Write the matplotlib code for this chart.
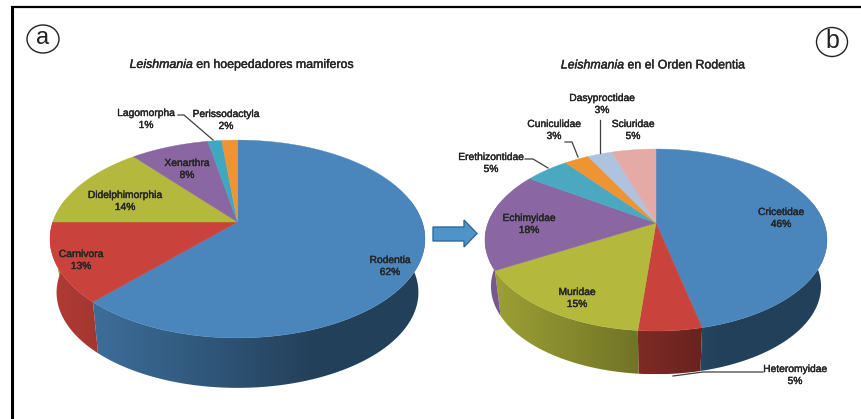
import numpy as np
import matplotlib
matplotlib.use("Agg")
import matplotlib.pyplot as plt
import matplotlib.patheffects as pe
from matplotlib.colors import to_rgb
from matplotlib.patches import Ellipse, Polygon

plt.rcParams["font.family"] = ["Liberation Sans", "DejaVu Sans"]
plt.rcParams["mathtext.fontset"] = "custom"
plt.rcParams["mathtext.it"] = "Liberation Sans:italic"
plt.rcParams["mathtext.rm"] = "Liberation Sans"

# labels in the picture are rounded, slices are read a bit finer
HOST_NAMES = ["Rodentia", "Carnivora", "Didelphimorphia", "Xenarthra", "Lagomorpha", "Perissodactyla"]
HOST_VALUES = [62, 13, 14, 8, 1.4, 1.6]
HOST_COLORS = ["#4A86BC", "#C9433C", "#B4B83C", "#8A67A3", "#3FA7C0", "#EE9433"]

RODENT_NAMES = ["Cricetidae", "Heteromyidae", "Muridae", "Echimyidae", "Erethizontidae",
                "Cuniculidae", "Dasyproctidae", "Sciuridae"]
RODENT_VALUES = [46.4, 5, 15.4, 17.6, 5, 2.8, 2.8, 5]
RODENT_COLORS = ["#4A86BC", "#C9433C", "#B4B83C", "#8A67A3", "#4AA8C0", "#EE9433", "#AEC3DF", "#E5A9A6"]

# label centres in pixels
HOST_LABELS = [(390, 266), (81, 260), (125, 201), (187, 169), (146, 119), (226, 120)]
RODENT_LABELS = [(781, 218), (795, 375), (577, 298), (529, 224), (491, 163), (554, 130), (602, 104), (633, 130)]


def rim(a, b, k, frac):
    # excel style perspective: the centre of the disc is not the centre of the ellipse
    theta = 2 * np.pi * np.asarray(frac)
    u, v = np.sin(theta), np.cos(theta)
    d = 1 + k * v
    return u * a / d, -v * b / d


def draw_wall(ax, t, color, cx, cy, a, b, k, depth, shrink):
    x, y = rim(a, b, k, t)
    x2, y2 = x * shrink, y * shrink + depth
    px = np.concatenate([cx + x, cx + x2[::-1]])
    py = np.concatenate([cy + y, cy + y2[::-1]])
    poly = Polygon(np.column_stack([px, py]), closed=True, fc="none", ec="none", zorder=2)
    ax.add_patch(poly)

    # shading goes left to right across the whole pie
    xs = np.linspace(px.min(), px.max(), 200)
    shade = np.interp((xs - cx) / a, [-1, 0, 0.4, 1], [0.88, 0.6, 0.48, 0.48])
    img = np.array(to_rgb(color))[None, None, :] * shade[None, :, None]
    im = ax.imshow(img, extent=(px.min(), px.max(), py.max(), py.min()), aspect="auto",
                   interpolation="bilinear", zorder=2)
    im.set_clip_path(poly)


def draw_pie(ax, values, colors, names, label_pos, cx, cy, a, b, k, depth, shrink):
    fracs = np.cumsum([0] + values) / sum(values)

    # only the front part of the wall can be seen
    for i in range(len(values)):
        t = np.linspace(fracs[i], fracs[i + 1], 120)
        t = t[np.cos(2 * np.pi * t) < 0.25]
        if len(t) > 1:
            draw_wall(ax, t, colors[i], cx, cy, a, b, k, depth, shrink)

    for i in range(len(values)):
        t = np.linspace(fracs[i], fracs[i + 1], 80)
        x, y = rim(a, b, k, t)
        pts = [(cx, cy)] + list(zip(cx + x, cy + y))
        ax.add_patch(Polygon(pts, closed=True, fc=colors[i], ec=colors[i], lw=0.3, zorder=3))

    for name, val, (lx, ly) in zip(names, values, label_pos):
        ax.text(lx, ly, f"{name}\n{val:.0f}%", ha="center", va="center", fontsize=7.4,
                color="#262626", linespacing=1.25, zorder=5,
                path_effects=[pe.withStroke(linewidth=0.3, foreground="#262626")])


fig = plt.figure(figsize=(8.61, 4.19), dpi=100)
ax = fig.add_axes([0, 0, 1, 1])

draw_pie(ax, HOST_VALUES, HOST_COLORS, HOST_NAMES, HOST_LABELS, 237.5, 222, 184.7, 96, 0.172, 54, 0.965)
draw_pie(ax, RODENT_VALUES, RODENT_COLORS, RODENT_NAMES, RODENT_LABELS, 656, 223, 168, 87.8, 0.187, 47, 0.965)

ax.set_xlim(0, 861)
ax.set_ylim(419, 0)
ax.axis("off")

# leader lines
ax.plot([178, 184, 213], [115, 115, 140], color="#404040", lw=0.9, zorder=4)
ax.plot([525, 533, 548], [159, 159, 168], color="#404040", lw=0.9, zorder=4)
ax.plot([565, 572, 578], [142, 142, 157], color="#404040", lw=0.9, zorder=4)
ax.plot([600, 600], [120, 153], color="#404040", lw=0.9, zorder=4)
ax.plot([763, 703, 673], [372, 372, 376], color="#404040", lw=0.9, zorder=4)

# titles
title_fx = [pe.withStroke(linewidth=0.3, foreground="#262626")]
ax.text(242.5, 65, r"$\mathit{Leishmania}$ en hoepedadores mamiferos", ha="center", va="center",
        fontsize=8.9, color="#262626", path_effects=title_fx)
ax.text(654, 65, r"$\mathit{Leishmania}$ en el Orden Rodentia", ha="center", va="center",
        fontsize=8.9, color="#262626", path_effects=title_fx)

# panel letters
ax.add_patch(Ellipse((43, 39), 32, 28, fc="white", ec="#222222", lw=1.0, zorder=4))
ax.text(43, 38, "a", ha="center", va="center", fontsize=17, color="#222222", zorder=5)
ax.add_patch(Ellipse((832, 42), 31, 29, fc="white", ec="#222222", lw=1.0, zorder=4))
ax.text(832, 41, "b", ha="center", va="center", fontsize=18, color="#222222", zorder=5)

# arrow between the pies
ax.add_patch(Polygon([(433, 227), (464, 227), (464, 220), (477, 233.5), (464, 247), (464, 241), (433, 241)],
                     closed=True, fc="#4F94C8", ec="#2F6A9A", lw=1.0, zorder=4))

# frame: only left and top show in the crop
ax.plot([12, 12], [419, 7], color="black", lw=2.2, zorder=6, solid_capstyle="butt")
ax.plot([11, 861], [7, 7], color="black", lw=1.6, zorder=6, solid_capstyle="butt")

fig.savefig("out.png", dpi=100)
